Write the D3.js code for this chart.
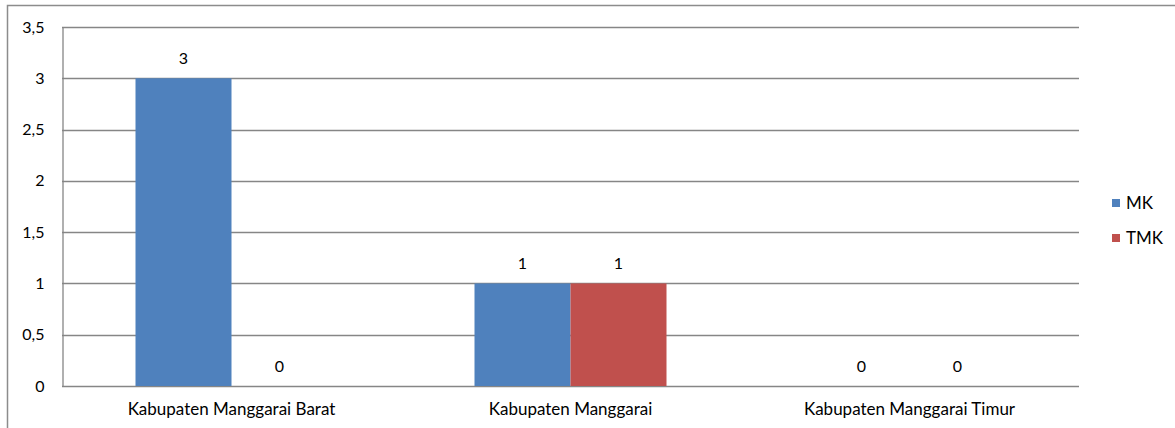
<!DOCTYPE html>
<html>
<head>
<meta charset="utf-8">
<script src="https://cdn.jsdelivr.net/npm/d3@7"></script>
<style>
  html, body { margin: 0; padding: 0; background: #fff; }
  svg { display: block; font-family: Lato, "Open Sans", "Liberation Sans", sans-serif; }
</style>
</head>
<body>
<svg id="chart" width="1175" height="428"></svg>
<script>
// Jumlah per kabupaten, dua seri
const categories = ["Kabupaten Manggarai Barat", "Kabupaten Manggarai", "Kabupaten Manggarai Timur"];
const seriesNames = ["MK", "TMK"];
const mkValues = [3, 1, 0];
const tmkValues = [0, 1, 0];
const yTicks = [0, 0.5, 1, 1.5, 2, 2.5, 3, 3.5];
const colors = ["#4F81BD", "#C0504D"];

const FS = 17;
const svg = d3.select("#chart");
const W = 1175, H = 428;

// Outer chart frame
svg.append("path")
  .attr("d", `M7.5,${H} V5.5 H${W}`)
  .attr("fill", "none")
  .attr("stroke", "#8c8c8c")
  .attr("stroke-width", 1.5);

const plot = { left: 62, right: 1079, top: 27, bottom: 386 };

const x0 = d3.scaleBand()
  .domain(categories)
  .range([plot.left, plot.right])
  .paddingInner(0)
  .paddingOuter(0);

const groupWidth = 192;
const x1 = d3.scaleBand()
  .domain(seriesNames)
  .range([(x0.bandwidth() - groupWidth) / 2, (x0.bandwidth() + groupWidth) / 2]);

const y = d3.scaleLinear().domain([0, 3.5]).range([plot.bottom, plot.top]);

const fmt = v => String(v).replace(".", ",");

// Horizontal gridlines
svg.append("g")
  .selectAll("line")
  .data(yTicks)
  .join("line")
  .attr("x1", plot.left)
  .attr("x2", plot.right)
  .attr("y1", d => Math.round(y(d)) + 0.5)
  .attr("y2", d => Math.round(y(d)) + 0.5)
  .attr("stroke", "#868686")
  .attr("stroke-width", 1.3);

// Value axis
const yAxis = d3.axisLeft(y).tickValues(yTicks).tickFormat(fmt).tickSize(0).tickPadding(18);
const gy = svg.append("g").attr("transform", `translate(${plot.left + 0.5},0)`).call(yAxis);
gy.select(".domain").attr("stroke", "#868686").attr("stroke-width", 1.3);
gy.selectAll("text").attr("font-size", 16).attr("fill", "#000")
  .attr("font-family", "Lato, 'Open Sans', sans-serif");

// Bars
const rows = categories.map((c, i) => ({ cat: c, values: [mkValues[i], tmkValues[i]] }));

const groups = svg.append("g")
  .selectAll("g")
  .data(rows)
  .join("g")
  .attr("transform", d => `translate(${x0(d.cat)},0)`);

groups.selectAll("rect")
  .data(d => d.values.map((v, j) => ({ key: seriesNames[j], v, j })))
  .join("rect")
  .attr("x", d => x1(d.key))
  .attr("width", x1.bandwidth())
  .attr("y", d => y(d.v))
  .attr("height", d => y(0) - y(d.v))
  .attr("fill", d => colors[d.j]);

// Value labels
groups.selectAll("text")
  .data(d => d.values.map((v, j) => ({ key: seriesNames[j], v, j })))
  .join("text")
  .attr("x", d => x1(d.key) + x1.bandwidth() / 2)
  .attr("y", d => y(d.v) - 20)
  .attr("dy", "0.35em")
  .attr("text-anchor", "middle")
  .attr("font-size", 16)
  .attr("fill", "#000")
  .text(d => fmt(d.v));

// Category axis labels
const xAxis = d3.axisBottom(x0).tickSize(0).tickPadding(17);
const gx = svg.append("g").attr("transform", `translate(0,${plot.bottom})`).call(xAxis);
gx.select(".domain").remove();
gx.selectAll("text").attr("font-size", FS).attr("fill", "#000")
  .attr("font-family", "Lato, 'Open Sans', sans-serif");

// Legend
const legend = svg.append("g").attr("transform", "translate(1112,0)");
const ly = [203, 238];
seriesNames.forEach((name, i) => {
  legend.append("rect")
    .attr("x", 0).attr("y", ly[i] - 4)
    .attr("width", 8).attr("height", 8)
    .attr("fill", colors[i]);
  legend.append("text")
    .attr("x", 14).attr("y", ly[i])
    .attr("dy", "0.35em")
    .attr("font-size", FS)
    .attr("fill", "#000")
    .text(name);
});
</script>
</body>
</html>
